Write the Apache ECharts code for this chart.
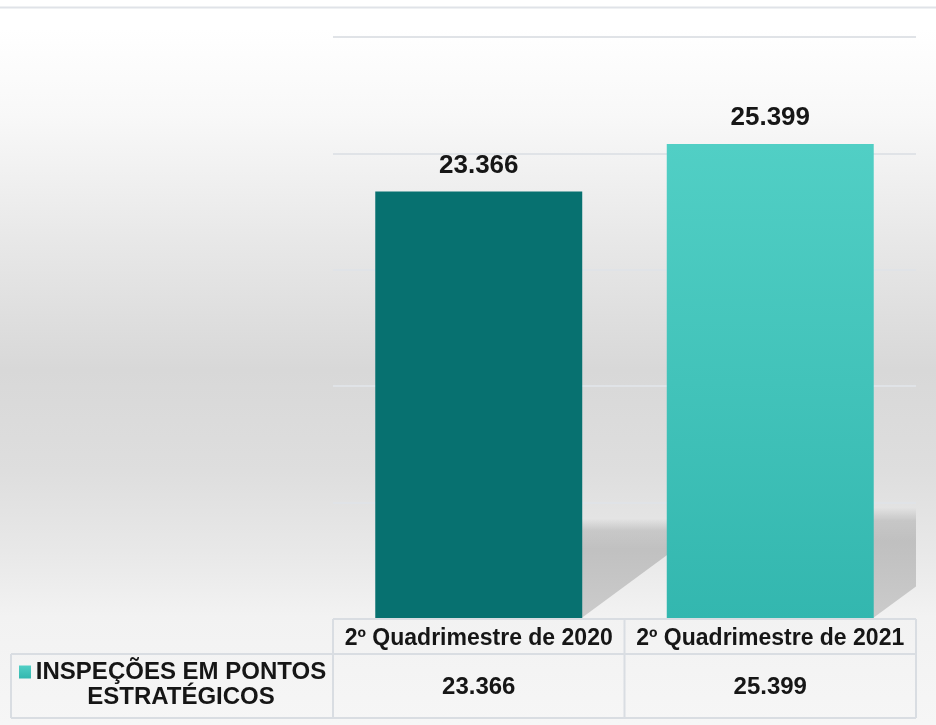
<!DOCTYPE html>
<html>
<head>
<meta charset="utf-8">
<style>
    html, body { margin: 0; padding: 0; }
    #chart { width: 936px; height: 725px; }
</style>
<script src="https://cdn.jsdelivr.net/npm/echarts@6/dist/echarts.min.js"></script>
</head>
<body>
<div id="chart"></div>
<script>
// dados
const categories = ['2º Quadrimestre de 2020', '2º Quadrimestre de 2021']
const seriesName = 'INSPEÇÕES EM PONTOS ESTRATÉGICOS'
const values = [23366, 25399]
const yMin = 5000
const yMax = 30000
const yStep = 5000

// 23366 -> 23.366
function fmt(v) {
    return String(v).replace(/\B(?=(\d{3})+(?!\d))/g, '.')
}

const font = 'Arial, "Liberation Sans", sans-serif'
const textColor = '#161616'
const borderColor = '#d9dde2'

const barColors = [
    '#077170',
    {
        type: 'linear', x: 0, y: 0, x2: 0, y2: 1,
        colorStops: [
            { offset: 0, color: '#51cfc5' },
            { offset: 1, color: '#33b7af' }
        ]
    }
]

// grade / tabela
const gLeft = 333, gRight = 916, gTop = 37, gBottom = 619
const rowMid = 654, rowEnd = 718, tableLeft = 11
const colMid = (gLeft + gRight) / 2

function line(x1, y1, x2, y2) {
    return {
        type: 'line',
        shape: { x1: x1, y1: y1, x2: x2, y2: y2 },
        style: { stroke: borderColor, lineWidth: 2 },
        z: 10
    }
}

const chart = echarts.init(document.getElementById('chart'))

const option = {
    animation: false,
    backgroundColor: {
        type: 'linear', x: 0, y: 0, x2: 0, y2: 1,
        colorStops: [
            { offset: 0, color: '#ffffff' },
            { offset: 0.04, color: '#ffffff' },
            { offset: 0.16, color: '#f8f8f8' },
            { offset: 0.33, color: '#e8e8e8' },
            { offset: 0.51, color: '#d8d8d8' },
            { offset: 0.65, color: '#dedede' },
            { offset: 0.76, color: '#e8e8e8' },
            { offset: 0.85, color: '#f2f2f2' },
            { offset: 1, color: '#f6f6f6' }
        ]
    },
    textStyle: { fontFamily: font },
    grid: {
        left: gLeft,
        right: 936 - gRight,
        top: gTop,
        bottom: 725 - gBottom,
        containLabel: false
    },
    legend: {
        left: 19,
        top: 660,
        padding: 0,
        icon: 'rect',
        itemWidth: 12,
        itemHeight: 13,
        itemGap: 0,
        data: [seriesName],
        formatter: function () {
            return '{a|INSPEÇÕES EM PONTOS}\n{a|ESTRATÉGICOS}'
        },
        textStyle: {
            padding: [25, 0, 0, 0],
            rich: {
                a: {
                    width: 290,
                    align: 'center',
                    fontSize: 24,
                    lineHeight: 25,
                    fontWeight: 'bold',
                    fontFamily: font,
                    color: textColor
                }
            }
        }
    },
    xAxis: [
        {
            type: 'category',
            data: categories,
            axisLine: { show: false },
            axisTick: { show: false },
            axisLabel: {
                margin: 8,
                fontSize: 23,
                lineHeight: 23,
                fontWeight: 'bold',
                color: textColor,
                interval: 0
            }
        },
        {
            type: 'category',
            data: categories,
            position: 'bottom',
            offset: 48,
            axisLine: { show: false },
            axisTick: { show: false },
            axisLabel: {
                margin: 8,
                fontSize: 24,
                lineHeight: 24,
                fontWeight: 'bold',
                color: textColor,
                interval: 0,
                formatter: function (v, i) {
                    return fmt(values[i])
                }
            }
        }
    ],
    yAxis: {
        type: 'value',
        min: yMin,
        max: yMax,
        interval: yStep,
        axisLabel: { show: false },
        axisLine: { show: false },
        axisTick: { show: false },
        splitLine: {
            lineStyle: { color: '#e0e3e7', width: 2 }
        }
    },
    graphic: [
        // linha superior
        {
            type: 'line',
            shape: { x1: 0, y1: 7.5, x2: 936, y2: 7.5 },
            style: { stroke: '#e0e3e8', lineWidth: 2 }
        },
        // tabela de dados
        line(gLeft, gBottom, gRight, gBottom),
        line(tableLeft, rowMid, gRight, rowMid),
        line(tableLeft, rowEnd, gRight, rowEnd),
        line(tableLeft, rowMid, tableLeft, rowEnd),
        line(gLeft, gBottom, gLeft, rowEnd),
        line(colMid, gBottom, colMid, rowEnd),
        line(gRight, gBottom, gRight, rowEnd)
    ],
    series: [
        {
            // sombra em perspectiva no piso
            type: 'custom',
            clip: true,
            z: 1,
            silent: true,
            data: values.map(function (v, i) { return [i, v] }),
            renderItem: function (params, api) {
                const base = api.coord([api.value(0), yMin])
                const top = api.coord([api.value(0), api.value(1)])
                const band = api.size([1, 0])[0]
                const xr = base[0] + band * 0.71 / 2
                const ys = base[1] - (base[1] - top[1]) * 0.235
                const w = 110
                return {
                    type: 'polygon',
                    shape: {
                        points: [
                            [xr - 2, ys],
                            [xr + w, ys],
                            [xr + w, base[1] - 0.75 * w],
                            [xr - 2, base[1]]
                        ]
                    },
                    style: {
                        fill: {
                            type: 'linear', x: 0, y: 0, x2: 0, y2: 1,
                            colorStops: [
                                { offset: 0, color: 'rgba(0,0,0,0)' },
                                { offset: 0.12, color: 'rgba(0,0,0,0.13)' },
                                { offset: 0.3, color: 'rgba(0,0,0,0.17)' },
                                { offset: 1, color: 'rgba(0,0,0,0.16)' }
                            ]
                        }
                    }
                }
            }
        },
        {
            name: seriesName,
            type: 'bar',
            z: 2,
            barWidth: '71%',
            data: values.map(function (v, i) {
                return { value: v, itemStyle: { color: barColors[i] } }
            }),
            itemStyle: { color: barColors[1] },
            label: {
                show: true,
                position: 'top',
                distance: 13,
                fontSize: 26,
                fontWeight: 'bold',
                color: textColor,
                formatter: function (p) {
                    return fmt(p.value)
                }
            }
        }
    ]
}

chart.setOption(option)
window.addEventListener('resize', function () { chart.resize() })
</script>
</body>
</html>
